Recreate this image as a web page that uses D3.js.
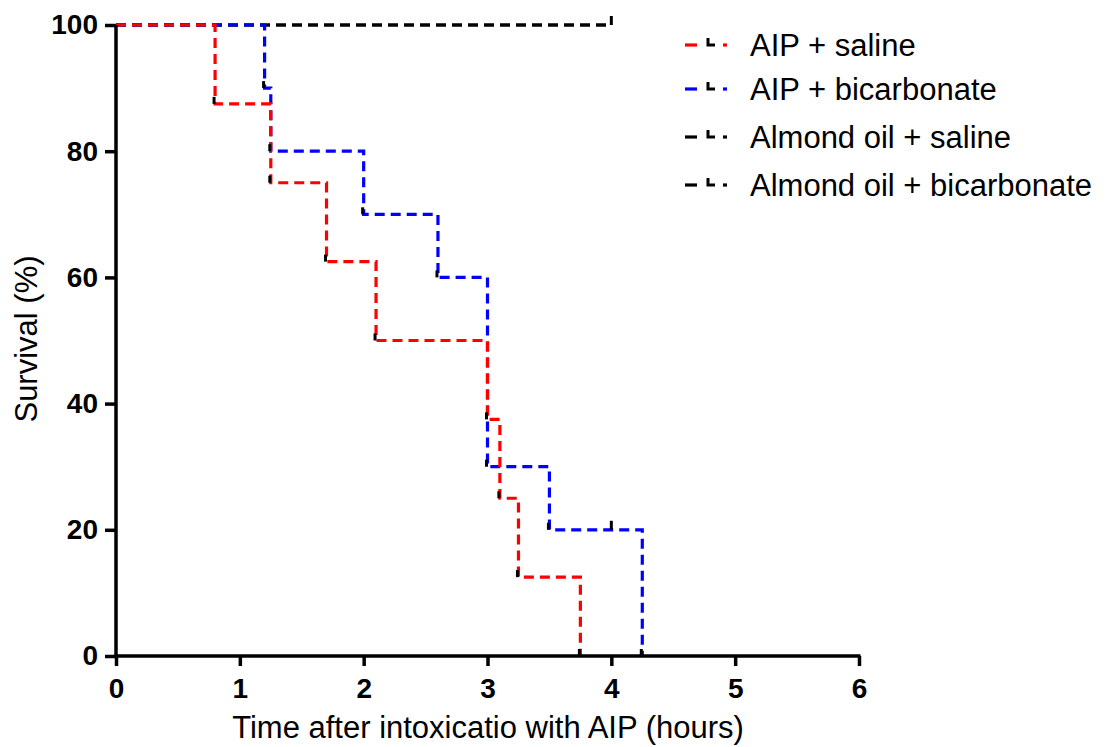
<!DOCTYPE html>
<html><head><meta charset="utf-8">
<script src="https://cdn.jsdelivr.net/npm/d3@7"></script>
<style>body{margin:0;background:#fff}svg{display:block}text{font-family:"Liberation Sans",Arial,sans-serif}</style>
</head><body>
<svg id="c" width="1113" height="747"></svg>
<script>
// ---- data ----
const seriesNames = ["AIP + saline","AIP + bicarbonate","Almond oil + saline","Almond oil + bicarbonate"];
const seriesColors = ["#ff0000","#0000ff","#000000","#000000"];
// step times (hours) and survival (%) after each step
const salineTimes = [0, 0.8, 1.25, 1.7, 2.1, 3.0, 3.1, 3.25, 3.75];
const salineSurv  = [100, 87.5, 75, 62.5, 50, 37.5, 25, 12.5, 0];
const bicarbTimes = [0, 1.2, 1.25, 2.0, 2.6, 3.0, 3.5, 4.25];
const bicarbSurv  = [100, 90, 80, 70, 60, 30, 20, 0];
const bicarbCensorTimes = [4.0];
const bicarbCensorSurv = [20];
const almondSalineTimes = [0, 4.0];
const almondSalineSurv  = [100, 100];
const almondBicarbTimes = [0, 4.0];
const almondBicarbSurv  = [100, 100];
const almondCensorTimes = [4.0];
const almondCensorSurv = [100];
const xTicks = [0,1,2,3,4,5,6];
const yTicks = [0,20,40,60,80,100];

const svg = d3.select("#c");
const x = d3.scaleLinear().domain([0,6]).range([116,859]);
const y = d3.scaleLinear().domain([0,100]).range([656,25]);

const toPts = (ts, ss) => ts.map((t,i)=>({t, s: ss[i]}));
const series = [
  {name: seriesNames[2], color: seriesColors[2], pts: toPts(almondSalineTimes, almondSalineSurv), cens: toPts(almondCensorTimes, almondCensorSurv)},
  {name: seriesNames[3], color: seriesColors[3], pts: toPts(almondBicarbTimes, almondBicarbSurv), cens: []},
  {name: seriesNames[1], color: seriesColors[1], pts: toPts(bicarbTimes, bicarbSurv), cens: toPts(bicarbCensorTimes, bicarbCensorSurv)},
  {name: seriesNames[0], color: seriesColors[0], pts: toPts(salineTimes, salineSurv), cens: []},
];

const line = d3.line().x(d=>x(d.t)).y(d=>y(d.s)).curve(d3.curveStepAfter);

// curves
series.forEach(s=>{
  svg.append("path").attr("d", line(s.pts)).attr("fill","none")
    .attr("stroke", s.color).attr("stroke-width",3.2).attr("stroke-dasharray","10,6");
});
// drop markers (black) at each step
series.forEach(s=>{
  const g = svg.append("g");
  s.pts.slice(1).forEach((p,i)=>{
    if (p.s === s.pts[i].s) return;
    g.append("line").attr("x1", x(p.t)-1).attr("x2", x(p.t)-1)
      .attr("y1", y(p.s)-7).attr("y2", y(p.s)).attr("stroke","#000").attr("stroke-width",3);
  });
  s.cens.forEach(p=>{
    g.append("line").attr("x1", x(p.t)).attr("x2", x(p.t))
      .attr("y1", y(p.s)-9).attr("y2", y(p.s)).attr("stroke","#000").attr("stroke-width",3);
  });
});

// axes
const xAxis = d3.axisBottom(x).tickValues(xTicks).tickSize(10).tickSizeOuter(0).tickPadding(12).tickFormat(d3.format("d"));
const gx = svg.append("g").attr("transform","translate(0,656)").call(xAxis);
const yAxis = d3.axisLeft(y).tickValues(yTicks).tickSize(11).tickSizeOuter(0).tickPadding(7).tickFormat(d3.format("d"));
const gy = svg.append("g").attr("transform","translate(116,0)").call(yAxis);
[gx,gy].forEach(g=>{
  g.select(".domain").attr("stroke","#000").attr("stroke-width",3.5);
  g.selectAll(".tick line").attr("stroke","#000").attr("stroke-width",3.5);
  g.selectAll(".tick text").attr("fill","#000").style("font-size","28px").style("font-weight","bold")
   .style("font-family","'Liberation Sans',Arial,sans-serif");
});
gx.select(".domain").attr("d", `M${x(0)-1.5},0H${x(6)+1.5}`);
gy.select(".domain").attr("d", `M0,${y(100)}V${y(0)+1.5}`);

// axis titles
svg.append("text").attr("x", 488).attr("y", 738).attr("text-anchor","middle")
  .style("font-size","31px").attr("fill","#000").text("Time after intoxicatio with AIP (hours)");
svg.append("text").attr("transform","translate(37,339) rotate(-90)").attr("text-anchor","middle")
  .style("font-size","31px").attr("fill","#000").text("Survival (%)");

// legend
const legY = [45, 89, 137, 185];
const legOrder = [0,1,2,3];
legOrder.forEach((k,i)=>{
  const g = svg.append("g").attr("transform",`translate(0,${legY[i]})`);
  const c = seriesColors[k];
  g.append("line").attr("x1",685).attr("x2",697).attr("y1",0).attr("y2",0).attr("stroke",c).attr("stroke-width",3.2);
  g.append("path").attr("d","M708,-7V0H715").attr("fill","none").attr("stroke","#000").attr("stroke-width",3);
  g.append("line").attr("x1",723).attr("x2",727).attr("y1",0).attr("y2",0).attr("stroke",c).attr("stroke-width",3.2);
  g.append("text").attr("x",750).attr("y",11).style("font-size","31px").attr("fill","#000").text(seriesNames[k]);
});
</script>
</body></html>
